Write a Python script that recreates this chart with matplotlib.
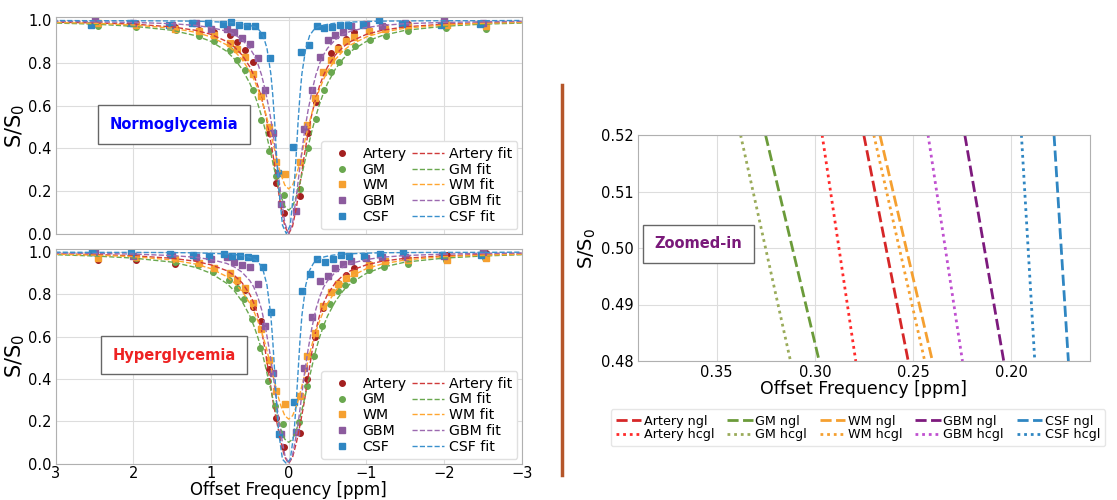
import numpy as np
import matplotlib.pyplot as plt
from matplotlib.lines import Line2D

tissues = ['Artery', 'GM', 'WM', 'GBM', 'CSF']
markers = ['o', 'o', 's', 's', 's']
pt_colors = ['#a3201f', '#6aa84f', '#f5a030', '#8c5b9e', '#2f86c2']
fit_colors = ['#d03a3a', '#6aa84f', '#ffa630', '#9c6ab0', '#3a90cc']

# normoglycemia, measured points
ngl_artery_x = [2.46, 1.96, 1.46, 1.16, 0.96, 0.76, 0.66, 0.56, 0.46, 0.36, 0.26, 0.16, 0.06,
                -0.15, -0.25, -0.35, -0.44, -0.54, -0.64, -0.74, -0.84, -1.04, -1.24, -1.54, -2.04, -2.54]
ngl_artery_y = [0.99, 0.988, 0.97, 0.955, 0.945, 0.932, 0.897, 0.862, 0.805, 0.648, 0.474, 0.236, 0.097,
                0.178, 0.472, 0.62, 0.76, 0.846, 0.875, 0.914, 0.945, 0.957, 0.968, 0.983, 0.985, 0.99]
ngl_gm_x = [2.45, 1.96, 1.45, 1.15, 0.96, 0.76, 0.66, 0.56, 0.46, 0.36, 0.26, 0.16, 0.06,
            -0.15, -0.25, -0.35, -0.45, -0.55, -0.65, -0.75, -0.85, -1.05, -1.25, -1.54, -2.03, -2.54]
ngl_gm_y = [0.972, 0.968, 0.954, 0.929, 0.906, 0.862, 0.815, 0.768, 0.672, 0.534, 0.388, 0.27, 0.183,
            0.21, 0.4, 0.54, 0.675, 0.76, 0.806, 0.85, 0.88, 0.908, 0.929, 0.949, 0.965, 0.96]
ngl_wm_x = [2.46, 1.96, 1.46, 1.16, 0.96, 0.76, 0.66, 0.56, 0.46, 0.36, 0.26, 0.16, 0.05,
            -0.14, -0.24, -0.34, -0.44, -0.54, -0.64, -0.74, -0.84, -1.04, -1.24, -1.54, -2.04, -2.54]
ngl_wm_y = [0.988, 0.98, 0.962, 0.949, 0.93, 0.895, 0.865, 0.831, 0.749, 0.645, 0.5, 0.337, 0.278,
            0.334, 0.51, 0.638, 0.757, 0.814, 0.868, 0.903, 0.923, 0.949, 0.962, 0.972, 0.98, 0.972]
ngl_gbm_x = [2.5, 2.0, 1.5, 1.2, 1.0, 0.8, 0.7, 0.6, 0.5, 0.4, 0.3, 0.2, 0.1,
             -0.1, -0.2, -0.3, -0.4, -0.5, -0.6, -0.7, -0.8, -1.0, -1.2, -1.5, -2.0, -2.5]
ngl_gbm_y = [1.0, 0.99, 0.98, 0.99, 0.962, 0.962, 0.946, 0.918, 0.892, 0.826, 0.672, 0.472, 0.138,
             0.106, 0.49, 0.672, 0.828, 0.91, 0.93, 0.946, 0.973, 0.985, 0.975, 0.99, 1.0, 0.988]
ngl_csf_x = [2.54, 2.04, 1.54, 1.24, 1.04, 0.84, 0.74, 0.64, 0.54, 0.44, 0.34, 0.24, 0.14,
             -0.06, -0.16, -0.26, -0.36, -0.46, -0.56, -0.66, -0.76, -0.96, -1.16, -1.46, -1.96, -2.46]
ngl_csf_y = [0.977, 0.988, 0.98, 0.99, 0.99, 0.983, 0.995, 0.977, 0.972, 0.972, 0.934, 0.826, 0.287,
             0.405, 0.85, 0.883, 0.972, 0.965, 0.97, 0.978, 0.978, 0.98, 1.0, 0.985, 0.98, 0.985]

# hyperglycemia, measured points
hcgl_artery_x = [2.46, 1.96, 1.46, 1.16, 0.96, 0.76, 0.66, 0.56, 0.46, 0.36, 0.26, 0.16, 0.06,
                 -0.14, -0.24, -0.34, -0.44, -0.54, -0.64, -0.74, -0.84, -1.04, -1.24, -1.54, -2.04, -2.54]
hcgl_artery_y = [0.965, 0.965, 0.945, 0.945, 0.925, 0.9, 0.865, 0.82, 0.742, 0.672, 0.446, 0.216, 0.076,
                 0.146, 0.4, 0.6, 0.734, 0.81, 0.855, 0.89, 0.923, 0.945, 0.955, 0.97, 0.985, 0.998]
hcgl_gm_x = [2.45, 1.96, 1.46, 1.17, 0.97, 0.77, 0.67, 0.57, 0.47, 0.37, 0.27, 0.17, 0.07,
             -0.13, -0.23, -0.33, -0.43, -0.53, -0.63, -0.73, -0.83, -1.03, -1.23, -1.53, -2.03, -2.53]
hcgl_gm_y = [0.975, 0.972, 0.954, 0.937, 0.908, 0.869, 0.83, 0.78, 0.686, 0.547, 0.391, 0.272, 0.188,
             0.195, 0.369, 0.51, 0.649, 0.754, 0.815, 0.846, 0.869, 0.915, 0.929, 0.946, 0.965, 0.972]
hcgl_wm_x = [2.46, 1.96, 1.46, 1.16, 0.96, 0.76, 0.66, 0.56, 0.46, 0.36, 0.26, 0.16, 0.05,
             -0.14, -0.24, -0.34, -0.44, -0.54, -0.64, -0.74, -0.84, -1.04, -1.24, -1.54, -2.04, -2.54]
hcgl_wm_y = [0.972, 0.975, 0.968, 0.95, 0.926, 0.9, 0.868, 0.829, 0.76, 0.638, 0.488, 0.342, 0.28,
             0.32, 0.51, 0.618, 0.745, 0.811, 0.849, 0.88, 0.903, 0.94, 0.957, 0.965, 0.965, 0.972]
hcgl_gbm_x = [2.5, 2.0, 1.5, 1.2, 1.0, 0.8, 0.7, 0.6, 0.5, 0.4, 0.3, 0.2, 0.1,
              -0.1, -0.2, -0.3, -0.4, -0.5, -0.6, -0.7, -0.8, -1.0, -1.2, -1.5, -2.0, -2.5]
hcgl_gbm_y = [1.0, 0.98, 0.985, 0.978, 0.969, 0.975, 0.952, 0.94, 0.93, 0.85, 0.652, 0.43, 0.14,
              0.15, 0.45, 0.692, 0.865, 0.888, 0.926, 0.945, 0.96, 0.972, 0.975, 0.977, 0.98, 1.0]
hcgl_csf_x = [2.53, 2.03, 1.53, 1.23, 1.03, 0.83, 0.73, 0.63, 0.53, 0.43, 0.33, 0.23, 0.13,
              -0.07, -0.17, -0.27, -0.37, -0.47, -0.57, -0.67, -0.77, -0.97, -1.17, -1.47, -1.97, -2.47]
hcgl_csf_y = [1.0, 0.998, 0.99, 0.985, 0.98, 0.99, 0.98, 0.983, 0.978, 0.972, 0.931, 0.718, 0.14,
              0.292, 0.816, 0.896, 0.97, 0.954, 0.968, 0.987, 0.98, 0.982, 0.99, 1.0, 0.985, 0.988]

# fit curves, read at distance from the fit centre (curves are symmetric)
fit_d = [0, 0.05, 0.1, 0.125, 0.15, 0.175, 0.2, 0.25, 0.3, 0.35, 0.4, 0.45, 0.5,
         0.6, 0.7, 0.8, 1.0, 1.2, 1.5, 2.0, 2.5, 3.0]
fit_center = [0, 0, 0, 0, 0.03]
fit_ngl_artery = [0, 0.035, 0.125, 0.183, 0.244, 0.305, 0.365, 0.473, 0.564, 0.637, 0.697, 0.744, 0.782,
                  0.838, 0.876, 0.902, 0.935, 0.954, 0.97, 0.983, 0.989, 0.992]
fit_ngl_gm = [0.11, 0.128, 0.176, 0.209, 0.247, 0.286, 0.327, 0.408, 0.484, 0.552, 0.611, 0.662, 0.705,
              0.772, 0.82, 0.856, 0.902, 0.929, 0.954, 0.973, 0.983, 0.988]
fit_ngl_wm = [0.21, 0.228, 0.277, 0.309, 0.346, 0.384, 0.423, 0.499, 0.569, 0.629, 0.681, 0.725, 0.761,
              0.817, 0.857, 0.886, 0.923, 0.945, 0.964, 0.979, 0.987, 0.991]
fit_ngl_gbm = [0, 0.05, 0.18, 0.255, 0.33, 0.4, 0.47, 0.58, 0.67, 0.745, 0.8, 0.84, 0.87,
               0.91, 0.935, 0.95, 0.967, 0.977, 0.985, 0.991, 0.994, 0.996]
fit_ngl_csf = [0, 0.04, 0.22, 0.36, 0.52, 0.65, 0.75, 0.87, 0.93, 0.955, 0.968, 0.975, 0.98,
               0.986, 0.99, 0.992, 0.995, 0.997, 0.998, 0.999, 0.999, 1.0]
fit_hcgl_artery = [0, 0.03, 0.1, 0.145, 0.19, 0.24, 0.29, 0.41, 0.53, 0.63, 0.705, 0.76, 0.8,
                   0.855, 0.89, 0.913, 0.94, 0.957, 0.971, 0.983, 0.989, 0.992]
fit_hcgl_gm = [0.1, 0.115, 0.16, 0.19, 0.225, 0.262, 0.3, 0.38, 0.46, 0.538, 0.6, 0.653, 0.698,
               0.767, 0.817, 0.853, 0.9, 0.928, 0.953, 0.972, 0.982, 0.988]
fit_hcgl_wm = [0.21, 0.226, 0.272, 0.303, 0.338, 0.375, 0.412, 0.49, 0.563, 0.625, 0.677, 0.722, 0.758,
               0.815, 0.855, 0.885, 0.922, 0.944, 0.963, 0.979, 0.986, 0.99]
fit_hcgl_gbm = [0, 0.04, 0.14, 0.2, 0.27, 0.345, 0.42, 0.54, 0.645, 0.73, 0.79, 0.835, 0.865,
                0.905, 0.93, 0.947, 0.965, 0.976, 0.984, 0.991, 0.994, 0.996]
fit_hcgl_csf = [0, 0.02, 0.15, 0.28, 0.43, 0.58, 0.7, 0.845, 0.915, 0.948, 0.964, 0.973, 0.979,
                0.986, 0.99, 0.992, 0.995, 0.997, 0.998, 0.999, 0.999, 1.0]

# zoomed-in panel: offset where each fit crosses S/S0 = 0.52 and 0.48
zoom_s = [0.52, 0.48]
zoom_ngl_top = [0.2751, 0.3251, 0.2669, 0.2237, 0.1783]
zoom_ngl_bot = [0.2525, 0.2978, 0.2402, 0.2039, 0.1710]
zoom_hcgl_top = [0.2963, 0.3378, 0.2700, 0.2424, 0.1949]
zoom_hcgl_bot = [0.2792, 0.3124, 0.2441, 0.2249, 0.1881]
zoom_ngl_colors = ['#d62728', '#6b9b3a', '#f5a030', '#7d1a7d', '#2f86c2']
zoom_hcgl_colors = ['#ff2a2a', '#9aab5a', '#f5a030', '#c050d0', '#2f86c2']

ngl_pts = [(ngl_artery_x, ngl_artery_y), (ngl_gm_x, ngl_gm_y), (ngl_wm_x, ngl_wm_y),
           (ngl_gbm_x, ngl_gbm_y), (ngl_csf_x, ngl_csf_y)]
hcgl_pts = [(hcgl_artery_x, hcgl_artery_y), (hcgl_gm_x, hcgl_gm_y), (hcgl_wm_x, hcgl_wm_y),
            (hcgl_gbm_x, hcgl_gbm_y), (hcgl_csf_x, hcgl_csf_y)]
ngl_fits = [fit_ngl_artery, fit_ngl_gm, fit_ngl_wm, fit_ngl_gbm, fit_ngl_csf]
hcgl_fits = [fit_hcgl_artery, fit_hcgl_gm, fit_hcgl_wm, fit_hcgl_gbm, fit_hcgl_csf]

W, H = 1117, 500
fig = plt.figure(figsize=(W / 100, H / 100), dpi=100)
ax1 = fig.add_axes([55.7 / W, 1 - 233.7 / H, 466 / W, 216.4 / H])
ax2 = fig.add_axes([55.7 / W, 1 - 463.5 / H, 466 / W, 214.5 / H])
ax3 = fig.add_axes([638 / W, 1 - 361 / H, 452 / W, 226 / H])


def style(ax):
    ax.grid(True, color='#dddddd', lw=0.8)
    ax.set_axisbelow(True)
    for s in ax.spines.values():
        s.set_color('#b0b0b0')
    ax.tick_params(length=0, labelsize=10.5, pad=3)


def panel(ax, pts, fits, title, tcolor):
    style(ax)
    handles = []
    for i, name in enumerate(tissues):
        h, = ax.plot(pts[i][0], pts[i][1], ls='none', marker=markers[i], ms=4.0,
                     color=pt_colors[i], label=name)
        handles.append(h)
    d = np.array(fit_d)
    for i, name in enumerate(tissues):
        v = np.array(fits[i])
        xs = fit_center[i] + np.concatenate([-d[::-1], d[1:]])
        ys = np.concatenate([v[::-1], v[1:]])
        h, = ax.plot(xs, ys, ls='--', lw=1.0, color=fit_colors[i], label=name + ' fit')
        handles.append(h)
    ax.set_xlim(3, -3)
    ax.set_ylim(0, 1.015)
    ax.set_xticks([3, 2, 1, 0, -1, -2, -3])
    ax.set_yticks([0, 0.2, 0.4, 0.6, 0.8, 1.0])
    ax.set_ylabel('S/S$_0$', fontsize=15, labelpad=1)
    ax.legend(handles=handles, ncol=2, loc='lower right', fontsize=10.2, labelspacing=0.12,
              handlelength=2.2, handletextpad=0.35, columnspacing=0.4, borderaxespad=0.3,
              framealpha=1, edgecolor='#e0e0e0', borderpad=0.4)
    ax.text(0.254, 0.505, title, transform=ax.transAxes, ha='center', va='center',
            fontsize=10.5, fontweight='bold', color=tcolor,
            bbox=dict(boxstyle='square,pad=0.8', fc='white', ec='#666666', lw=1))


panel(ax1, ngl_pts, ngl_fits, 'Normoglycemia', '#0000ff')
panel(ax2, hcgl_pts, hcgl_fits, 'Hyperglycemia', '#ee2222')
ax1.tick_params(labelbottom=False)
ax2.tick_params(axis='x', pad=2)
ax2.set_xlabel('Offset Frequency [ppm]', fontsize=12, labelpad=0)

# zoomed-in panel
style(ax3)
zh = []
for i, name in enumerate(tissues):
    h1, = ax3.plot([zoom_ngl_top[i], zoom_ngl_bot[i]], zoom_s, ls=(0, (4, 1.6)), lw=2.0,
                   color=zoom_ngl_colors[i], label=name + ' ngl')
    h2, = ax3.plot([zoom_hcgl_top[i], zoom_hcgl_bot[i]], zoom_s, ls=(0, (1, 1.4)), lw=2.0,
                   color=zoom_hcgl_colors[i], label=name + ' hcgl')
    zh += [h1, h2]
ax3.set_xlim(0.39, 0.16)
ax3.set_ylim(0.48, 0.52)
ax3.set_xticks([0.35, 0.30, 0.25, 0.20])
ax3.set_yticks([0.48, 0.49, 0.50, 0.51, 0.52])
ax3.set_xticklabels(['0.35', '0.30', '0.25', '0.20'])
ax3.set_yticklabels(['0.48', '0.49', '0.50', '0.51', '0.52'])
ax3.set_xlabel('Offset Frequency [ppm]', fontsize=12.5, labelpad=0)
ax3.set_ylabel('S/S$_0$', fontsize=14, labelpad=2)
ax3.text(0.133, 0.518, 'Zoomed-in', transform=ax3.transAxes, ha='center', va='center',
         fontsize=10.5, fontweight='bold', color='#7a1a7a',
         bbox=dict(boxstyle='square,pad=0.8', fc='white', ec='#666666', lw=1))
fig.legend(handles=zh, ncol=5, loc='upper center', bbox_to_anchor=(858 / W, 1 - 403 / H),
           fontsize=9.2, labelspacing=0.05, handlelength=2.0, handletextpad=0.2,
           columnspacing=1.0, framealpha=1, edgecolor='#e6e6e6', borderpad=0.4)

# separator line between the panels
fig.add_artist(Line2D([562 / W, 562 / W], [1 - 85 / H, 1 - 475 / H], color='#b5562a', lw=2.5))

plt.savefig('out.png', dpi=100)
